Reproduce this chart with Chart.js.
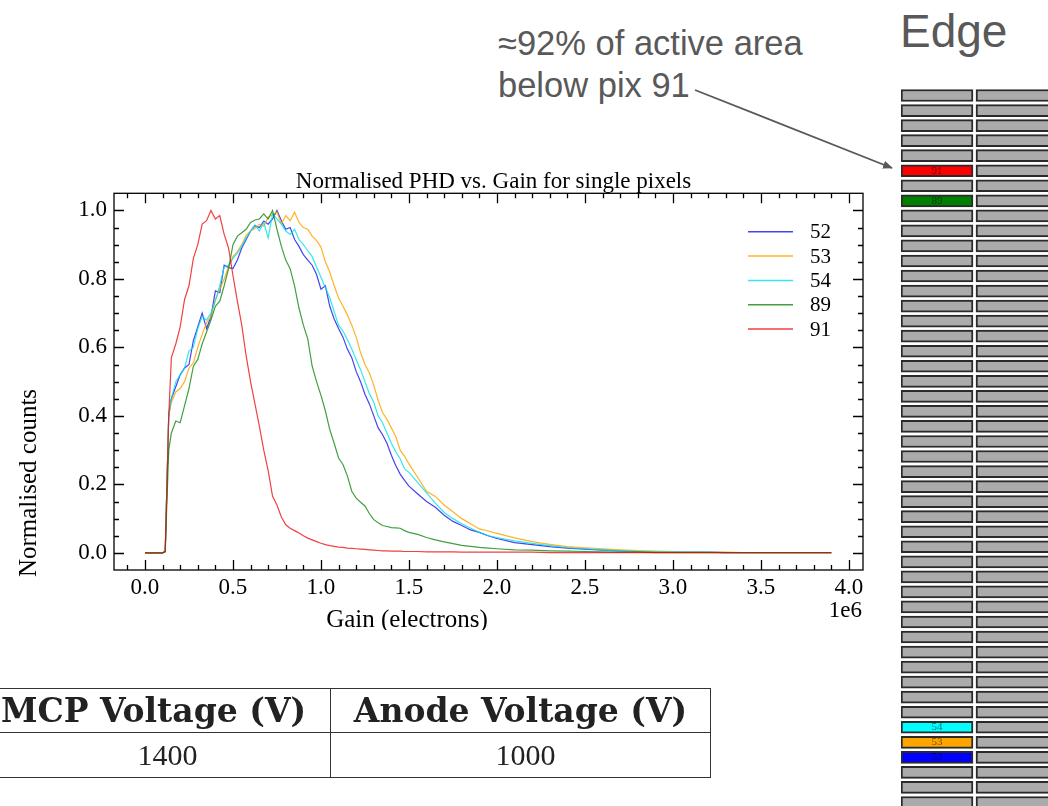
<!DOCTYPE html>
<html>
<head>
<meta charset="utf-8">
<script src="https://cdn.jsdelivr.net/npm/chart.js@4.4.0/dist/chart.umd.min.js"></script>
<style>
  html, body { margin: 0; padding: 0; background: #fff; width: 1048px; height: 806px; overflow: hidden; }
  .abs { position: absolute; }
  #note { left: 498px; top: 22px; font: 34.5px 'Liberation Sans', Arial, sans-serif; line-height: 42px; color: #595959; white-space: nowrap; }
  #edge { left: 900px; top: 8px; font: 46px 'Liberation Sans', Arial, sans-serif; line-height: 46px; color: #595959; }
  #tbl { left: -24px; top: 688px; border-collapse: collapse; color: #222; }
  #tbl td { border: 1.6px solid #333; text-align: center; padding: 0; }
  #tbl tr.head td { font: bold 33px 'DejaVu Serif', serif; height: 43px; }
  #tbl tr.body td { font: 30px 'Liberation Serif', serif; height: 44px; }
  #tbl tr.body td:first-child { padding-left: 28px; }
  #tbl tr.body td:last-child { padding-left: 10px; }
</style>
</head>
<body>
<canvas id="phd" class="abs" width="900" height="480" style="left:0;top:150px"></canvas>
<canvas id="pix" class="abs" width="147" height="722" style="left:901px;top:88px"></canvas>
<div id="note" class="abs">≈92% of active area<br>below pix 91</div>
<div id="edge" class="abs">Edge</div>
<svg class="abs" style="left:0;top:0" width="1048" height="806">
  <defs>
    <marker id="head" markerWidth="10" markerHeight="8" refX="9" refY="4" orient="auto" markerUnits="userSpaceOnUse">
      <path d="M0,0 L10,4 L0,8 z" fill="#595959"/>
    </marker>
  </defs>
  <line x1="695" y1="90" x2="892" y2="168" stroke="#595959" stroke-width="1.8" marker-end="url(#head)"/>
</svg>
<table id="tbl" class="abs"></table>

<script>
// gain bins (units of 1e6 electrons)
const gain = [0, 0.05, 0.1, 0.115, 0.135,
  0.15, 0.175, 0.2, 0.225, 0.25, 0.275, 0.3, 0.325, 0.35, 0.375,
  0.4, 0.425, 0.45, 0.475, 0.5, 0.525, 0.55, 0.575, 0.6, 0.625,
  0.65, 0.675, 0.7, 0.725, 0.75, 0.775, 0.8, 0.825, 0.85, 0.875,
  0.9, 0.925, 0.95, 0.975, 1.0, 1.025, 1.05, 1.075, 1.1, 1.125,
  1.15, 1.175, 1.2, 1.225, 1.25, 1.275, 1.3, 1.325, 1.35, 1.375,
  1.4, 1.425, 1.45, 1.475, 1.5,
  1.55, 1.6, 1.65, 1.7, 1.75, 1.8, 1.85, 1.9, 1.95, 2.0,
  2.1, 2.2, 2.3, 2.4, 2.5, 2.6, 2.7, 2.8, 2.9, 3.0, 3.1, 3.2, 3.3, 3.4, 3.5, 3.6, 3.7, 3.8, 3.9];

const pix52 = [0, 0, 0, 0.004, 0.40,
  0.45, 0.485, 0.52, 0.54, 0.55, 0.62, 0.66, 0.70, 0.655, 0.69,
  0.765, 0.76, 0.84, 0.833, 0.83, 0.855, 0.89, 0.915, 0.94, 0.955,
  0.95, 0.969, 0.96, 0.975, 1.0, 0.97, 0.945, 0.95, 0.915, 0.895,
  0.871, 0.855, 0.84, 0.813, 0.77, 0.78, 0.72, 0.683, 0.655, 0.63,
  0.595, 0.57, 0.53, 0.50, 0.463, 0.435, 0.40, 0.365, 0.345, 0.32,
  0.285, 0.255, 0.23, 0.212, 0.195,
  0.172, 0.15, 0.133, 0.11, 0.092, 0.08, 0.067, 0.06, 0.05, 0.042,
  0.03, 0.024, 0.018, 0.014, 0.011, 0.008, 0.006, 0.004, 0.003, 0.003, 0.002, 0.002, 0.001, 0.001, 0.001, 0.001, 0.001, 0.001, 0.001];

const pix53 = [0, 0, 0, 0.004, 0.40,
  0.44, 0.47, 0.48, 0.50, 0.54, 0.555, 0.60, 0.638, 0.672, 0.69,
  0.74, 0.77, 0.80, 0.835, 0.865, 0.88, 0.90, 0.928, 0.94, 0.947,
  0.96, 0.954, 0.98, 0.988, 0.995, 0.96, 0.985, 0.97, 0.995, 0.965,
  0.95, 0.945, 0.925, 0.912, 0.893, 0.85, 0.82, 0.78, 0.745, 0.72,
  0.695, 0.665, 0.63, 0.585, 0.55, 0.525, 0.49, 0.445, 0.41, 0.39,
  0.365, 0.34, 0.30, 0.282, 0.26,
  0.22, 0.18, 0.165, 0.14, 0.12, 0.10, 0.085, 0.07, 0.064, 0.057,
  0.044, 0.033, 0.025, 0.018, 0.015, 0.012, 0.009, 0.007, 0.005, 0.004, 0.003, 0.002, 0.002, 0.001, 0.001, 0.001, 0.001, 0.001, 0.001];

const pix54 = [0, 0, 0, 0.004, 0.41,
  0.45, 0.50, 0.52, 0.54, 0.59, 0.60, 0.655, 0.69, 0.68, 0.70,
  0.735, 0.78, 0.835, 0.84, 0.86, 0.875, 0.895, 0.92, 0.94, 0.958,
  0.94, 0.965, 0.92, 0.99, 0.975, 0.96, 0.94, 0.93, 0.945, 0.915,
  0.90, 0.883, 0.865, 0.835, 0.805, 0.775, 0.745, 0.705, 0.665, 0.648,
  0.623, 0.595, 0.565, 0.535, 0.50, 0.465, 0.44, 0.40, 0.38, 0.35,
  0.32, 0.295, 0.275, 0.245, 0.235,
  0.205, 0.175, 0.145, 0.118, 0.10, 0.085, 0.072, 0.06, 0.05, 0.045,
  0.035, 0.028, 0.021, 0.015, 0.012, 0.009, 0.006, 0.004, 0.003, 0.003, 0.002, 0.002, 0.001, 0.001, 0.001, 0.001, 0.001, 0.001, 0.001];

const pix89 = [0, 0, 0, 0.004, 0.30,
  0.35, 0.385, 0.38, 0.43, 0.48, 0.545, 0.565, 0.61, 0.645, 0.68,
  0.72, 0.735, 0.78, 0.83, 0.90, 0.925, 0.935, 0.945, 0.965, 0.972,
  0.975, 0.99, 0.975, 1.0, 0.945, 0.895, 0.855, 0.83, 0.78, 0.715,
  0.665, 0.625, 0.545, 0.50, 0.46, 0.415, 0.36, 0.32, 0.277, 0.258,
  0.225, 0.18, 0.16, 0.148, 0.137, 0.115, 0.097, 0.088, 0.08, 0.077,
  0.074, 0.073, 0.072, 0.065, 0.06,
  0.054, 0.045, 0.038, 0.032, 0.027, 0.022, 0.019, 0.016, 0.014, 0.012,
  0.009, 0.008, 0.006, 0.005, 0.004, 0.003, 0.002, 0.002, 0.001, 0.001, 0.001, 0.001, 0.001, 0.001, 0.001, 0.001, 0.001, 0.001, 0.001];

const pix91 = [0, 0, 0, 0.004, 0.40,
  0.57, 0.61, 0.66, 0.74, 0.78, 0.86, 0.90, 0.96, 0.97, 1.0,
  0.975, 0.985, 0.93, 0.89, 0.81, 0.735, 0.665, 0.575, 0.50, 0.435,
  0.37, 0.30, 0.24, 0.165, 0.14, 0.105, 0.082, 0.072, 0.065, 0.058,
  0.05, 0.043, 0.038, 0.033, 0.028, 0.024, 0.021, 0.019, 0.017, 0.016,
  0.014, 0.013, 0.012, 0.011, 0.010, 0.009, 0.008, 0.007, 0.006, 0.006,
  0.005, 0.005, 0.005, 0.004, 0.004,
  0.004, 0.003, 0.003, 0.003, 0.003, 0.002, 0.002, 0.002, 0.002, 0.002,
  0.002, 0.002, 0.001, 0.001, 0.001, 0.001, 0.001, 0.001, 0.001, 0.001, 0.001, 0.001, 0.001, 0.001, 0.001, 0.001, 0.001, 0.001, 0.001];

const seriesNames = ['52', '53', '54', '89', '91'];
const seriesValues = [pix52, pix53, pix54, pix89, pix91];
const seriesColours = ['rgba(20,20,235,0.8)', 'rgba(255,165,0,0.85)', 'rgba(0,225,235,0.8)', 'rgba(0,128,0,0.75)', 'rgba(235,0,0,0.75)'];

// detector pixel strip, top to bottom
const pixelRows = [96, 95, 94, 93, 92, 91, 90, 89, 88, 87, 86, 85, 84, 83, 82, 81,
  80, 79, 78, 77, 76, 75, 74, 73, 72, 71, 70, 69, 68, 67, 66, 65,
  64, 63, 62, 61, 60, 59, 58, 57, 56, 55, 54, 53, 52, 51, 50, 49];
const markedColours = { 91: '#ff0000', 89: '#008000', 54: '#00ffff', 53: '#ffa500', 52: '#0000ff' };

const tableHead = ['MCP Voltage (V)', 'Anode Voltage (V)'];
const tableBody = ['1400', '1000'];

const serif = "'Liberation Serif', 'Times New Roman', serif";

// matplotlib-like frame: inward major/minor ticks on all sides, titles and legend
const framePlugin = {
  id: 'frame',
  afterDraw(chart) {
    const { ctx, chartArea: a, scales: { x, y } } = chart;
    ctx.save();
    ctx.strokeStyle = '#000';
    ctx.lineWidth = 1.3;
    ctx.strokeRect(a.left, a.top, a.right - a.left, a.bottom - a.top);

    ctx.beginPath();
    const xMajor = x.ticks.map(t => t.value);
    for (let k = -1; k <= 40; k++) {
      const v = k / 10;
      if (v < x.min || v > x.max) continue;
      const len = xMajor.some(m => Math.abs(m - v) < 1e-6) ? 10 : 5;
      const px = Math.round(x.getPixelForValue(v)) + 0.5;
      ctx.moveTo(px, a.bottom); ctx.lineTo(px, a.bottom - len);
      ctx.moveTo(px, a.top); ctx.lineTo(px, a.top + len);
    }
    const yMajor = y.ticks.map(t => t.value);
    for (let k = 0; k <= 20; k++) {
      const v = k / 20;
      const len = yMajor.some(m => Math.abs(m - v) < 1e-6) ? 10 : 5;
      const py = Math.round(y.getPixelForValue(v)) + 0.5;
      ctx.moveTo(a.left, py); ctx.lineTo(a.left + len, py);
      ctx.moveTo(a.right, py); ctx.lineTo(a.right - len, py);
    }
    ctx.stroke();

    ctx.fillStyle = '#000';
    ctx.textBaseline = 'alphabetic';
    ctx.font = '23px ' + serif;
    ctx.textAlign = 'center';
    ctx.fillText('Normalised PHD vs. Gain for single pixels', (a.left + a.right) / 2 + 5, a.top - 5);

    ctx.font = '25px ' + serif;
    ctx.fillText('Gain (electrons)', 407, a.bottom + 57);
    ctx.save();
    ctx.translate(36, a.bottom - 87);
    ctx.rotate(-Math.PI / 2);
    ctx.fillText('Normalised counts', 0, 0);
    ctx.restore();

    ctx.font = '23px ' + serif;
    ctx.textAlign = 'right';
    ctx.fillText('1e6', a.right - 1, a.bottom + 47);

    // legend
    ctx.font = '21px ' + serif;
    ctx.textAlign = 'left';
    ctx.textBaseline = 'middle';
    chart.data.datasets.forEach((ds, i) => {
      const ly = a.top + 38.5 + i * 24.3;
      ctx.strokeStyle = ds.borderColor;
      ctx.lineWidth = 1.5;
      ctx.beginPath();
      ctx.moveTo(a.right - 115, ly); ctx.lineTo(a.right - 70, ly);
      ctx.stroke();
      ctx.fillText(ds.label, a.right - 53, ly + 1);
    });
    ctx.restore();
  }
};

new Chart(document.getElementById('phd'), {
  type: 'line',
  data: {
    datasets: seriesNames.map((name, i) => ({
      label: name,
      data: gain.map((g, j) => ({ x: g, y: seriesValues[i][j] })),
      borderColor: seriesColours[i],
      borderWidth: 1.2,
      pointRadius: 0,
      tension: 0,
      order: seriesNames.length - i
    }))
  },
  options: {
    responsive: false,
    devicePixelRatio: 1,
    animation: false,
    layout: { padding: { left: 54, right: 37, top: 43.3, bottom: 20 } },
    plugins: { legend: { display: false }, tooltip: { enabled: false } },
    scales: {
      x: {
        type: 'linear', min: -0.176, max: 4.08,
        grid: { display: false, drawTicks: false }, border: { display: false },
        ticks: { stepSize: 0.5, includeBounds: false, autoSkip: false, maxRotation: 0, padding: 4,
          color: '#000', font: { family: serif, size: 23 }, callback: v => v.toFixed(1) },
        afterFit: s => { s.height = 40; }
      },
      y: {
        min: -0.05, max: 1.05,
        grid: { display: false, drawTicks: false }, border: { display: false },
        ticks: { stepSize: 0.2, includeBounds: false, padding: 7,
          color: '#000', font: { family: serif, size: 23 }, callback: v => v.toFixed(1) },
        afterFit: s => { s.width = 60; }
      }
    }
  },
  plugins: [framePlugin]
});

// pixel strip: two columns of floating bars
const cellLabels = {
  id: 'cellLabels',
  afterDatasetsDraw(chart) {
    const { ctx } = chart;
    const meta = chart.getDatasetMeta(0);
    ctx.save();
    ctx.font = '11px ' + serif;
    ctx.fillStyle = 'rgba(0,0,0,0.55)';
    ctx.textAlign = 'center';
    ctx.textBaseline = 'middle';
    meta.data.forEach((bar, i) => {
      const p = pixelRows[i];
      if (markedColours[p]) ctx.fillText(String(p), (bar.x + bar.base) / 2, bar.y);
    });
    ctx.restore();
  }
};

new Chart(document.getElementById('pix'), {
  type: 'bar',
  data: {
    labels: pixelRows.map(String),
    datasets: [
      { data: pixelRows.map(() => [0, 0.96]), backgroundColor: pixelRows.map(p => markedColours[p] || '#ababab') },
      { data: pixelRows.map(() => [1, 2.2]), backgroundColor: '#ababab' }
    ]
  },
  options: {
    indexAxis: 'y',
    responsive: false,
    devicePixelRatio: 1,
    animation: false,
    layout: { padding: 0 },
    datasets: { bar: { grouped: false, barThickness: 12, borderWidth: 2, borderColor: '#2a2a2a', borderSkipped: false } },
    plugins: { legend: { display: false }, tooltip: { enabled: false } },
    scales: {
      x: { type: 'linear', min: 0, max: 1.96, display: false },
      y: { type: 'category', display: false, offset: true }
    }
  },
  plugins: [cellLabels]
});

// parameter table (column widths set on the header row only)
const tbl = document.getElementById('tbl');
[[tableHead, 'head'], [tableBody, 'body']].forEach(([cells, cls]) => {
  const tr = document.createElement('tr');
  tr.className = cls;
  cells.forEach((c, i) => {
    const td = document.createElement('td');
    td.textContent = c;
    if (cls === 'head') td.style.width = i === 0 ? '353px' : '379px';
    tr.appendChild(td);
  });
  tbl.appendChild(tr);
});
</script>
</body>
</html>
